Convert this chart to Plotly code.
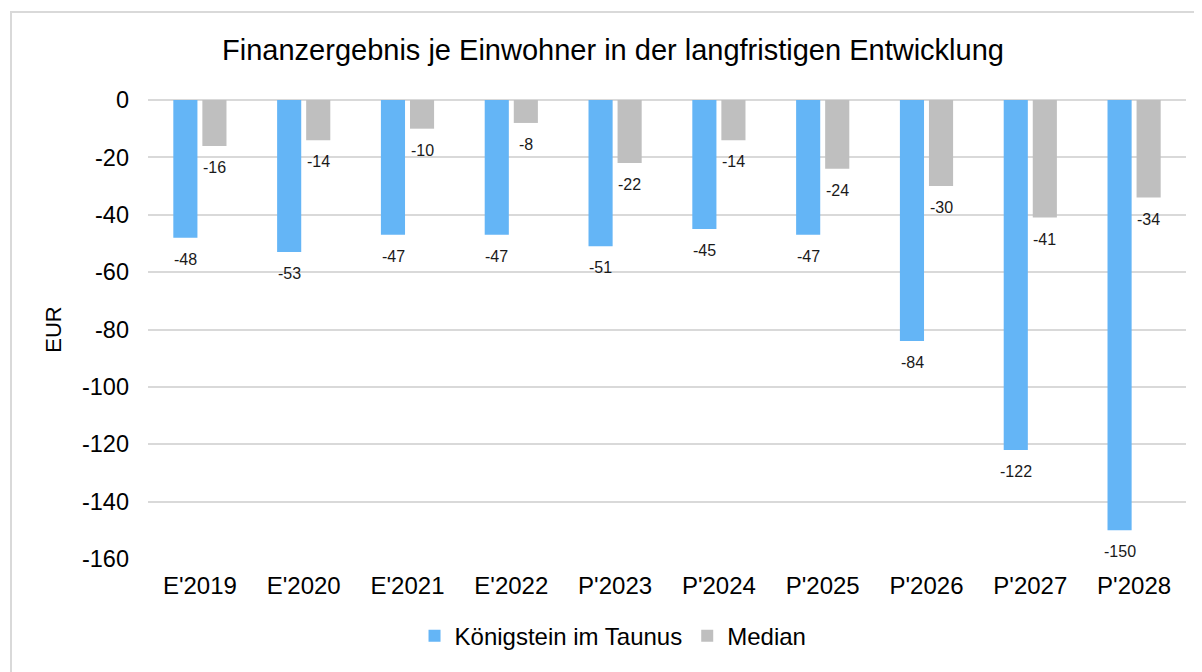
import plotly.graph_objects as go

categories = ["E'2019", "E'2020", "E'2021", "E'2022", "P'2023", "P'2024", "P'2025", "P'2026", "P'2027", "P'2028"]
koenigstein = [-48, -53, -47, -47, -51, -45, -47, -84, -122, -150]
median = [-16, -14, -10, -8, -22, -14, -24, -30, -41, -34]
y_ticks = [0, -20, -40, -60, -80, -100, -120, -140, -160]

FONT = "Liberation Sans, Arial, sans-serif"
BLUE = "#64B5F6"
GREY = "#BFBFBF"

fig = go.Figure()
fig.add_trace(go.Bar(
    x=categories, y=koenigstein, name="Königstein im Taunus",
    marker=dict(color=BLUE, line=dict(width=0)),
))
fig.add_trace(go.Bar(
    x=categories, y=median, name="Median",
    marker=dict(color=GREY, line=dict(width=0)),
))

# data labels below the bar ends (outside end)
for series, dx in ((koenigstein, -14.5), (median, 14.5)):
    for cat, val in zip(categories, series):
        fig.add_annotation(
            x=cat, y=val, xref="x", yref="y", text=str(val), showarrow=False,
            xanchor="center", yanchor="top", xshift=dx, yshift=-11,
            font=dict(size=16, family=FONT, color="#1a1a1a"),
        )

fig.update_layout(
    width=1194, height=664,
    paper_bgcolor="white", plot_bgcolor="white",
    font=dict(family=FONT, color="black"),
    title=dict(text="Finanzergebnis je Einwohner in der langfristigen Entwicklung",
               x=605 / 1194, xanchor="center", y=1 - 42 / 664, yanchor="middle",
               font=dict(size=29, family=FONT, color="black")),
    margin=dict(l=140, r=16, t=92, b=113, autoexpand=False),
    barmode="group", bargap=0.44, bargroupgap=0.17,
    showlegend=True,
    legend=dict(orientation="h", x=0.448, xanchor="center", y=-0.168, yanchor="middle",
                font=dict(size=24, family=FONT), traceorder="normal"),
)
fig.update_xaxes(
    showgrid=False, showline=False, ticks="", automargin=False,
    tickfont=dict(size=24, family=FONT, color="black"), ticklabelstandoff=10,
)
fig.update_yaxes(
    range=[-160, 0], tickvals=y_ticks, ticktext=[str(v) for v in y_ticks],
    showgrid=True, gridcolor="#D9D9D9", gridwidth=2,
    zeroline=True, zerolinecolor="#D9D9D9", zerolinewidth=2,
    automargin=False, ticklabelstandoff=18,
    tickfont=dict(size=23.5, family=FONT, color="black"),
    title=dict(text="EUR", font=dict(size=22, family=FONT, color="black"), standoff=14),
)
fig.add_shape(type="rect", xref="paper", yref="paper",
              x0=(3 - 140) / 1038, x1=1.2, y0=-0.5, y1=(551 - 4) / 459,
              line=dict(color="#D9D9D9", width=2), fillcolor="rgba(0,0,0,0)", layer="below")

fig.write_html("out.html")
